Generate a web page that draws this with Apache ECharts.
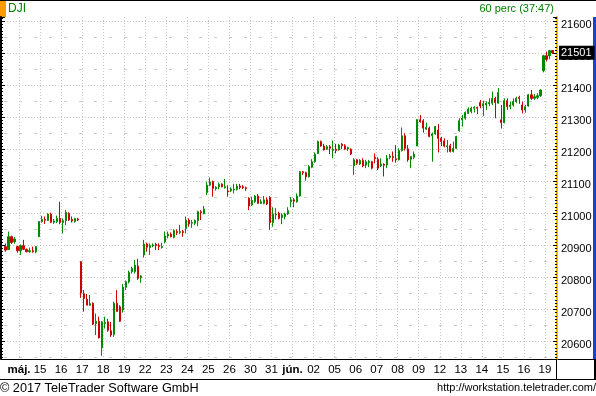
<!DOCTYPE html>
<html><head><meta charset="utf-8">
<script src="https://cdn.jsdelivr.net/npm/echarts@6/dist/echarts.min.js"></script>
<style>html,body{margin:0;padding:0;background:#fff}#c{width:596px;height:396px}</style>
</head><body><div id="c"></div>
<script>
// ---- data (one row per trading day, 60-minute bars) ----
const opens = [
 20896,20887,20927,20911,
 20896,20883,20899,20887,20880,20883,20880,
 20927,20974,20981,20978,20997,20972,20974,
 20984,20971,20977,21000,20981,20974,20982,
 20849,20749,20732,20713,20719,20656,20663,
 20580,20656,20661,20633,20622,20719,20708,
 20698,20769,20786,20818,20818,20835,20799,
 20870,20904,20893,20898,20903,20899,20893,
 20911,20929,20935,20925,20943,20940,20943,
 20953,20979,20969,20969,20977,21005,20998,
 21065,21088,21099,21077,21083,21091,21080,
 21070,21071,21073,21075,21085,21083,21080,
 21047,21026,21036,21054,21031,21031,21042,
 21050,20971,20995,21000,20987,20990,20998,
 21036,21042,21036,21054,21130,21127,21114,
 21144,21161,21187,21224,21210,21200,21208,
 21196,21200,21198,21216,21211,21201,21200,
 21148,21167,21154,21165,21151,21158,21161,
 21175,21169,21148,21153,21151,21175,21177,
 21170,21167,21196,21242,21201,21169,21175,
 21210,21292,21289,21263,21266,21242,21248,
 21260,21234,21226,21208,21211,21193,21203,
 21258,21292,21297,21312,21318,21328,21331,
 21346,21335,21338,21342,21344,21359,21344,
 21292,21283,21352,21333,21338,21349,21362,
 21338,21323,21335,21370,21359,21362,21367,
 21446,21492,21492,21508
];
const closes = [
 20885,20927,20909,20920,
 20883,20899,20888,20880,20883,20880,20896,
 20974,20981,20978,20997,20972,20976,20984,
 20971,20977,21003,20979,20976,20984,20979,
 20752,20734,20713,20718,20654,20663,20611,
 20661,20659,20635,20620,20719,20693,20663,
 20769,20786,20815,20828,20838,20797,20804,
 20904,20894,20899,20901,20899,20896,20896,
 20929,20935,20927,20946,20940,20943,20940,
 20979,20967,20971,20977,21005,21002,21013,
 21088,21098,21078,21081,21090,21083,21083,
 21067,21076,21075,21085,21081,21080,21077,
 21023,21040,21054,21031,21036,21042,21029,
 20971,20998,20998,20984,20995,20998,21008,
 21042,21038,21054,21130,21127,21114,21146,
 21161,21185,21224,21210,21198,21208,21203,
 21200,21196,21213,21211,21200,21205,21185,
 21167,21156,21165,21148,21161,21162,21141,
 21171,21141,21154,21150,21172,21179,21174,
 21167,21196,21242,21203,21167,21177,21185,
 21292,21286,21266,21268,21240,21248,21271,
 21234,21224,21210,21211,21193,21203,21240,
 21289,21297,21315,21325,21328,21331,21328,
 21335,21342,21344,21346,21359,21346,21377,
 21283,21352,21333,21338,21349,21359,21359,
 21323,21333,21370,21359,21364,21367,21385,
 21492,21481,21508,21501
];
const lows = [
 20880,20885,20904,20905,
 20877,20870,20885,20878,20877,20877,20875,
 20927,20971,20967,20976,20969,20967,20969,
 20966,20937,20963,20976,20971,20971,20976,
 20736,20693,20713,20711,20651,20620,20609,
 20555,20640,20630,20614,20614,20693,20661,
 20690,20760,20781,20812,20812,20792,20783,
 20862,20880,20870,20894,20885,20885,20890,
 20906,20922,20925,20922,20932,20935,20927,
 20937,20958,20955,20963,20960,20979,20998,
 21057,21085,21052,21071,21075,21081,21077,
 21052,21066,21062,21071,21075,21076,21070,
 21010,21023,21033,21029,21029,21028,21026,
 20948,20958,20981,20981,20966,20981,20995,
 21019,21019,21033,21052,21120,21102,21112,
 21141,21158,21185,21208,21196,21198,21185,
 21172,21187,21196,21200,21198,21195,21182,
 21120,21151,21151,21144,21141,21144,21137,
 21156,21135,21144,21115,21141,21169,21161,
 21158,21165,21193,21196,21161,21141,21169,
 21210,21283,21252,21260,21237,21161,21245,
 21190,21210,21206,21190,21190,21190,21200,
 21255,21271,21292,21310,21312,21315,21310,
 21328,21304,21323,21335,21338,21297,21342,
 21265,21281,21323,21325,21333,21344,21342,
 21312,21314,21333,21354,21354,21356,21364,
 21440,21474,21481,21498
];
const highs = [
 20906,20943,20930,20926,
 20899,20903,20917,20890,20893,20896,20898,
 20976,20992,20990,21000,21002,20982,20993,
 21036,20984,21010,21003,20990,20986,20986,
 20849,20760,20748,20745,20722,20687,20677,
 20663,20677,20670,20661,20724,20760,20713,
 20779,20790,20821,20833,20854,20858,20807,
 20917,20908,20906,20906,20908,20906,20908,
 20943,20943,20940,20950,20950,20964,20948,
 20990,20984,20979,20981,21008,21010,21023,
 21099,21112,21102,21085,21096,21094,21107,
 21088,21081,21092,21092,21092,21088,21083,
 21050,21052,21057,21060,21044,21054,21050,
 21054,21019,21016,21005,21000,21002,21019,
 21050,21047,21062,21132,21132,21130,21151,
 21169,21190,21227,21227,21217,21213,21213,
 21227,21217,21217,21219,21216,21208,21203,
 21172,21170,21169,21172,21167,21167,21164,
 21187,21175,21172,21156,21182,21185,21193,
 21213,21203,21268,21250,21213,21179,21193,
 21294,21307,21294,21283,21271,21252,21273,
 21279,21239,21234,21229,21217,21224,21242,
 21297,21307,21318,21331,21333,21335,21333,
 21354,21352,21349,21359,21380,21364,21391,
 21338,21359,21359,21349,21359,21364,21367,
 21349,21338,21373,21385,21373,21375,21387,
 21495,21505,21510,21510
];
const dayLabels = ['máj.','15','16','17','18','19','22','23','24','25','26','30','31','jún.','02','05','06','07','08','09','12','13','14','15','16','19'];
const monthLabels = ['máj.','jún.'];
const firstDayBars = 4;   // bars of the partial first session
const barsPerDay = 7;
const lastPrice = 21501;
const titleText = 'DJI';
const periodText = '60 perc (37:47)';
const copyrightText = '© 2017 TeleTrader Software GmbH';
const urlText = 'http://workstation.teletrader.com/';
const yMin = 20545, yMax = 21613;

// ---- build ----
const n = opens.length;
const categories = [];
for (let i = 0; i <= n; i++) categories.push('b' + i);
const labelAt = {};
dayLabels.forEach((l, r) => { labelAt[firstDayBars + r * barsPerDay + 1] = l; });
const candles = opens.map((o, i) => [o, closes[i], lows[i], highs[i]]);

const GREEN = '#008a00', RED = '#cc0000';
const FONT = 'Liberation Sans, Arial, sans-serif';
const gridCol = '#c8c8c8';

const chart = echarts.init(document.getElementById('c'), null, {renderer: 'canvas'});
chart.setOption({
  animation: false,
  backgroundColor: '#fff',
  grid: {left: 4, right: 39, top: 17, bottom: 37, containLabel: false},
  xAxis: {
    type: 'category', data: categories, boundaryGap: true,
    axisLine: {show: true, lineStyle: {color: '#000', width: 1}},
    axisTick: {show: false},
    axisLabel: {
      interval: (idx) => !!labelAt[idx],
      formatter: (v, idx) => {
        const l = labelAt[idx] || '';
        return monthLabels.includes(l) ? '{b|' + l + '}' : l;
      },
      color: '#000', fontSize: 11.5, fontFamily: FONT, margin: 5, padding: [0, 3, 0, 0],
      rich: {b: {fontWeight: 'bold', fontSize: 11.5, fontFamily: FONT, color: '#000'}}
    },
    splitLine: {show: true, interval: (idx) => !!labelAt[idx], lineStyle: {color: gridCol, width: 1, type: [1, 2]}}
  },
  yAxis: [
    {
      type: 'value', position: 'right', min: yMin, max: yMax, splitNumber: 10, scale: true,
      axisLine: {show: true, lineStyle: {color: '#f5c000', width: 2}},
      axisTick: {show: true, inside: true, length: 4, lineStyle: {color: '#000'}},
      minorTick: {show: true, splitNumber: 10, length: 2, lineStyle: {color: '#000'}},
      axisLabel: {color: '#000', fontSize: 11, fontFamily: FONT, margin: 4, showMinLabel: false, showMaxLabel: false,
        formatter: (v) => String(Math.round(v)), verticalAlign: 'top', lineHeight: 8},
      splitLine: {show: true, showMinLine: false, showMaxLine: false, lineStyle: {color: gridCol, width: 1, type: [1, 2]}}
    },
    {
      type: 'value', position: 'right', min: yMin, max: yMax, splitNumber: 10, scale: true,
      axisLine: {show: false}, axisTick: {show: false}, axisLabel: {show: false},
      splitLine: {show: false},
      minorTick: {show: false, splitNumber: 2},
      minorSplitLine: {show: true, lineStyle: {color: '#cccccc', width: 1, type: [3, 12]}}
    },
    {
      type: 'value', position: 'left', offset: 3, min: yMin, max: yMax, splitNumber: 10, scale: true,
      axisLine: {show: true, lineStyle: {color: '#000', width: 2}},
      axisTick: {show: true, inside: true, length: 4, lineStyle: {color: '#000'}},
      minorTick: {show: true, splitNumber: 10, length: 2, lineStyle: {color: '#000'}},
      axisLabel: {show: false}, splitLine: {show: false}
    }
  ],
  series: [{
    type: 'candlestick', data: candles, xAxisIndex: 0, yAxisIndex: 0,
    barWidth: 1.6,
    itemStyle: {color: GREEN, color0: RED, borderColor: GREEN, borderColor0: RED, borderWidth: 1},
    markLine: {
      symbol: 'none', silent: true, animation: false,
      lineStyle: {color: 'rgba(0,0,0,0)', width: 1, type: 'solid'},
      data: [{yAxis: lastPrice}],
      label: {show: true, position: 'end', distance: 2, formatter: String(lastPrice),
        color: '#fff', backgroundColor: '#000', fontSize: 11, fontFamily: FONT, padding: [2, 3, 1, 2]}
    }
  }],
  graphic: [
    {type: 'rect', shape: {x: 0, y: 0, width: 596, height: 1}, style: {fill: '#000'}},
    {type: 'rect', shape: {x: 0, y: 1, width: 6, height: 16}, style: {fill: '#ff9900'}},
    {type: 'text', x: 8, y: 9, style: {text: titleText, fill: '#008000', font: '12px ' + FONT, verticalAlign: 'middle'}},
    {type: 'text', x: 554, y: 9, style: {text: periodText, fill: '#008000', font: '11px ' + FONT, align: 'right', verticalAlign: 'middle'}},
    {type: 'rect', shape: {x: 593, y: 17, width: 3, height: 342}, style: {fill: '#1c3fd0'}},
    {type: 'rect', shape: {x: 557, y: 359, width: 39, height: 1}, style: {fill: '#000'}},
    {type: 'rect', shape: {x: 556, y: 359, width: 1, height: 20}, style: {fill: '#000'}},
    {type: 'rect', shape: {x: 594, y: 359, width: 2, height: 20}, style: {fill: '#000'}},
    {type: 'rect', shape: {x: 0, y: 379, width: 596, height: 1}, style: {fill: '#000'}},
    {type: 'text', x: 0, y: 388, style: {text: copyrightText, fill: '#000', font: '12.7px ' + FONT, verticalAlign: 'middle'}},
    {type: 'text', x: 596, y: 388, style: {text: urlText, fill: '#000', font: '11px ' + FONT, align: 'right', verticalAlign: 'middle'}}
  ]
});
</script></body></html>
